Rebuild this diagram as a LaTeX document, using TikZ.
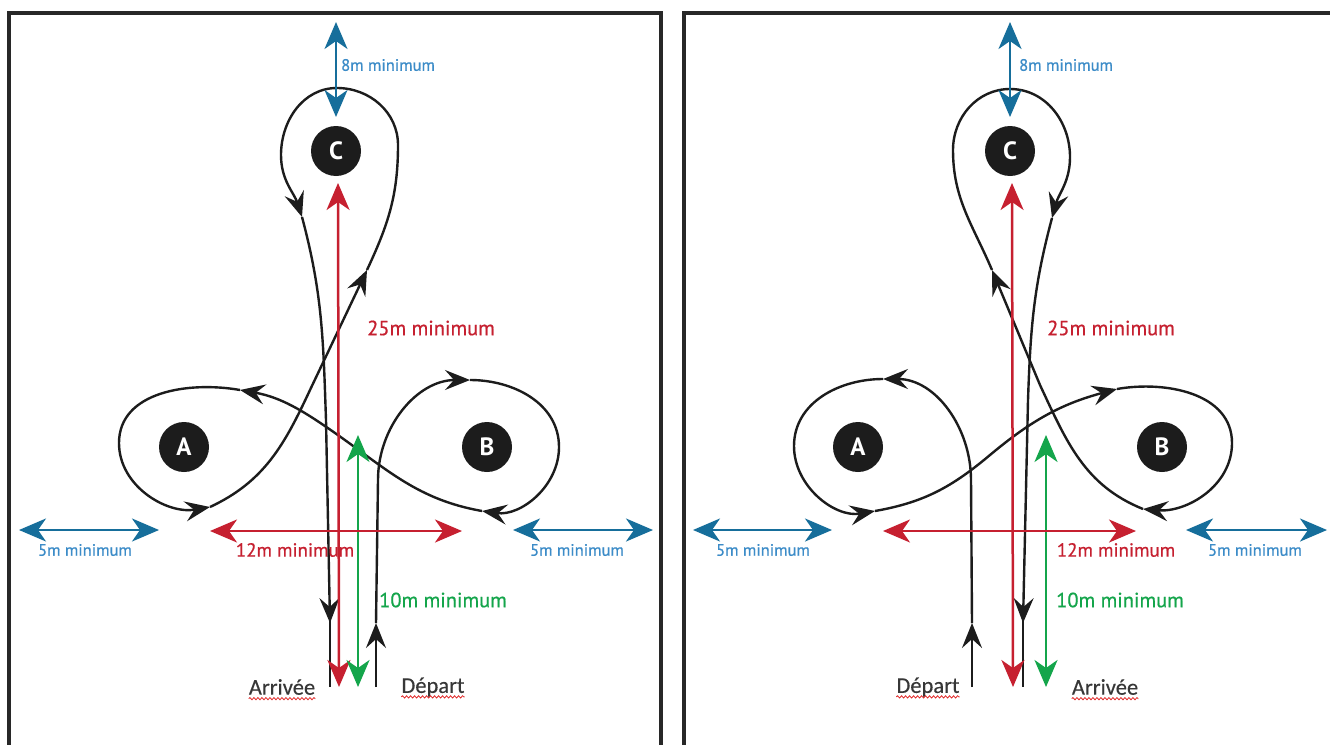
\documentclass[tikz,border=0pt]{standalone}
\usepackage{fontspec}
\usetikzlibrary{arrows.meta,decorations.pathmorphing}
\newfontfamily\labfont{PT Sans}[FakeBold=0.7]
\newfontfamily\boldfont{PT Sans Bold}
\newfontfamily\wordfont{Carlito}[FakeBold=0.3]
\definecolor{dimblue}{RGB}{22,110,155}
\definecolor{txtblue}{RGB}{60,140,200}
\definecolor{dimred}{RGB}{198,32,48}
\definecolor{dimgreen}{RGB}{20,165,75}
\definecolor{framecol}{RGB}{40,40,40}
\definecolor{ink}{RGB}{28,28,28}
\definecolor{wordcol}{RGB}{55,55,55}
\definecolor{squigred}{RGB}{225,40,40}
\begin{document}
\begin{tikzpicture}[x=1pt,y=-1pt,
  route/.style={line width=2.4pt, draw=ink, line join=round},
  rarrow/.style={route, -{Stealth[length=25pt,width=20pt,inset=9pt]}},
  plain/.style={route},
  dimline/.style={line width=2.5pt, {Stealth[length=27pt,width=23pt,inset=8pt]}-{Stealth[length=27pt,width=23pt,inset=8pt]}},
  frameline/.style={line width=3.5pt, draw=framecol},
  station/.style={circle, fill=ink, minimum size=50pt, inner sep=0pt, text=white, font=\boldfont\fontsize{25}{25}\selectfont},
  biglab/.style={inner sep=0pt, font=\labfont\fontsize{20.5}{24}\selectfont},
  midlab/.style={inner sep=0pt, font=\labfont\fontsize{19}{22}\selectfont},
  smalllab/.style={inner sep=0pt, text=txtblue, font=\labfont\fontsize{16.5}{20}\selectfont},
  word/.style={inner sep=0pt, text=wordcol, font=\wordfont\fontsize{22.5}{26}\selectfont},
  squig/.style={draw=squigred, line width=0.8pt, decoration={snake, amplitude=1.1pt, segment length=4pt}, decorate}
]
\useasboundingbox (0,0) rectangle (1330,744);
\fill[white] (0,0) rectangle (1330,744);

% frames
\draw[frameline] (9,748) -- (9,13) -- (661,13) -- (661,748);
\draw[frameline] (684,748) -- (684,13) -- (1334,13);

% ================= LEFT PANEL =================
\node[station] (LC) at (336,151) {C};
\node[station] (LA) at (184,447) {A};
\node[station] (LB) at (487,447) {B};

% dimension arrows
\coordinate (Lv1) at (336,22);  \coordinate (Lv2) at (336,117);
\coordinate (Lr1) at (338,183); \coordinate (Lr2) at (339,687);
\coordinate (Lg1) at (358,435); \coordinate (Lg2) at (358,687);
\coordinate (Lh1) at (210,531); \coordinate (Lh2) at (462,531);
\coordinate (Lw1) at (19,530);  \coordinate (Lw2) at (159,530);
\coordinate (Lq1) at (513,530); \coordinate (Lq2) at (653,530);

% route
\coordinate (Ld0) at (376,687);
\coordinate (Ld1) at (376,623);
\coordinate (Ld2) at (378,480);
\coordinate (Lb1) at (470,380);
\coordinate (Lb2) at (559,447);
\coordinate (Lb3) at (482,511);
\coordinate (Lx) at (335,433);
\coordinate (La1) at (240,390);
\coordinate (La2) at (119,443);
\coordinate (La3) at (210,507);
\coordinate (Ly) at (310,390);
\coordinate (Lc1) at (367,270);
\coordinate (Lc2) at (398,145);
\coordinate (Lc3) at (337,88);
\coordinate (Lc4) at (281,155);
\coordinate (Lc5) at (302,217);
\coordinate (Lz) at (326,420);
\coordinate (Le1) at (330,623);
\coordinate (Le0) at (330,687);

\draw[rarrow] (Ld0) -- (Ld1);
\draw[rarrow] (Ld1) -- (Ld2) to[out=90,in=180] (Lb1);
\draw[rarrow] (Lb1) to[out=0,in=90] (Lb2) to[out=-90,in=-8] (Lb3);
\draw[rarrow] (Lb3) to[out=170,in=-35] (Lx) to[out=145,in=-10] (La1);
\draw[rarrow] (La1) to[out=170,in=90] (La2) to[out=-90,in=190] (La3);
\draw[rarrow] (La3) to[out=25,in=-115] (Ly) -- (Lc1);
\draw[rarrow] (Lc1) to[out=65,in=-90] (Lc2) to[out=90,in=0] (Lc3) to[out=180,in=90] (Lc4) to[out=-90,in=108] (Lc5);
\draw[rarrow] (Lc5) to[out=-75,in=92] (Lz) -- (Le1);
\draw[plain] ([yshift=2pt]Le1) -- (Le0);

\draw[dimline, dimblue] (Lv1) -- (Lv2);
\draw[dimline, dimred] (Lr1) -- (Lr2);
\draw[dimline, dimgreen] (Lg1) -- (Lg2);
\draw[dimline, dimred] (Lh1) -- (Lh2);
\draw[dimline, dimblue] (Lw1) -- (Lw2);
\draw[dimline, dimblue] (Lq1) -- (Lq2);

\node[smalllab, anchor=west] (Lt8) at (341,65) {8m minimum};
\node[biglab, anchor=west, text=dimred] (Lt25) at (367,328) {25m minimum};
\node[smalllab] (Lt5a) at (85,550) {5m minimum};
\node[midlab, text=dimred] (Lt12) at (295,550) {12m minimum};
\node[smalllab] (Lt5b) at (577,550) {5m minimum};
\node[biglab, anchor=west, text=dimgreen] (Lt10) at (379,600) {10m minimum};
\node[word] (Larr) at (282,687) {Arrivée};
\node[word] (Ldep) at (433,687) {Départ};
\draw[squig] ([yshift=-4pt]Larr.base west) -- ([yshift=-4pt]Larr.base east);
\draw[squig] ([yshift=-4pt]Ldep.base west) -- ([yshift=-4pt]Ldep.base east);

% ================= RIGHT PANEL =================
\node[station] (RC) at (1010,151) {C};
\node[station] (RA) at (858,447) {A};
\node[station] (RB) at (1162,447) {B};

\coordinate (Rv1) at (1010,22);  \coordinate (Rv2) at (1010,117);
\coordinate (Rr1) at (1012,183); \coordinate (Rr2) at (1013,687);
\coordinate (Rg1) at (1046,435); \coordinate (Rg2) at (1046,687);
\coordinate (Rh1) at (883,531);  \coordinate (Rh2) at (1136,531);
\coordinate (Rw1) at (693,530);  \coordinate (Rw2) at (832,530);
\coordinate (Rq1) at (1186,530); \coordinate (Rq2) at (1327,530);

\coordinate (Rd0) at (972,687);
\coordinate (Rd1) at (972,623);
\coordinate (Rd2) at (971,480);
\coordinate (Ra1) at (883,379);
\coordinate (Ra2) at (794,446);
\coordinate (Ra3) at (875,511);
\coordinate (Rx) at (990,455);
\coordinate (Rb1) at (1117,389);
\coordinate (Rb2) at (1232,443);
\coordinate (Rb3) at (1143,509);
\coordinate (Ry) at (1040,385);
\coordinate (Rc1) at (992,270);
\coordinate (Rc2) at (953,150);
\coordinate (Rc3) at (1010,89);
\coordinate (Rc4) at (1070,157);
\coordinate (Rc5) at (1052,218);
\coordinate (Rz) at (1028,400);
\coordinate (Re1) at (1023,623);
\coordinate (Re0) at (1023,687);

\draw[rarrow] (Rd0) -- (Rd1);
\draw[rarrow] (Rd1) -- (Rd2) to[out=90,in=0] (Ra1);
\draw[rarrow] (Ra1) to[out=180,in=90] (Ra2) to[out=-90,in=190] (Ra3);
\draw[rarrow] (Ra3) to[out=10,in=-140] (Rx) to[out=40,in=195] (Rb1);
\draw[rarrow] (Rb1) to[out=10,in=90] (Rb2) to[out=-90,in=-5] (Rb3);
\draw[rarrow] (Rb3) to[out=158,in=-65] (Ry) -- (Rc1);
\draw[rarrow] (Rc1) to[out=113,in=-90] (Rc2) to[out=90,in=180] (Rc3) to[out=0,in=90] (Rc4) to[out=-90,in=75] (Rc5);
\draw[rarrow] (Rc5) to[out=-105,in=88] (Rz) -- (Re1);
\draw[plain] ([yshift=2pt]Re1) -- (Re0);

\draw[dimline, dimblue] (Rv1) -- (Rv2);
\draw[dimline, dimred] (Rr1) -- (Rr2);
\draw[dimline, dimgreen] (Rg1) -- (Rg2);
\draw[dimline, dimred] (Rh1) -- (Rh2);
\draw[dimline, dimblue] (Rw1) -- (Rw2);
\draw[dimline, dimblue] (Rq1) -- (Rq2);

\node[smalllab, anchor=west] (Rt8) at (1019,65) {8m minimum};
\node[biglab, anchor=west, text=dimred] (Rt25) at (1047,328) {25m minimum};
\node[smalllab] (Rt5a) at (763,550) {5m minimum};
\node[midlab, text=dimred] (Rt12) at (1116,550) {12m minimum};
\node[smalllab] (Rt5b) at (1255,550) {5m minimum};
\node[biglab, anchor=west, text=dimgreen] (Rt10) at (1056,600) {10m minimum};
\node[word] (Rdep) at (928,687) {Départ};
\node[word] (Rarr) at (1105,687) {Arrivée};
\draw[squig] ([yshift=-4pt]Rdep.base west) -- ([yshift=-4pt]Rdep.base east);
\draw[squig] ([yshift=-4pt]Rarr.base west) -- ([yshift=-4pt]Rarr.base east);
\end{tikzpicture}
\end{document}
